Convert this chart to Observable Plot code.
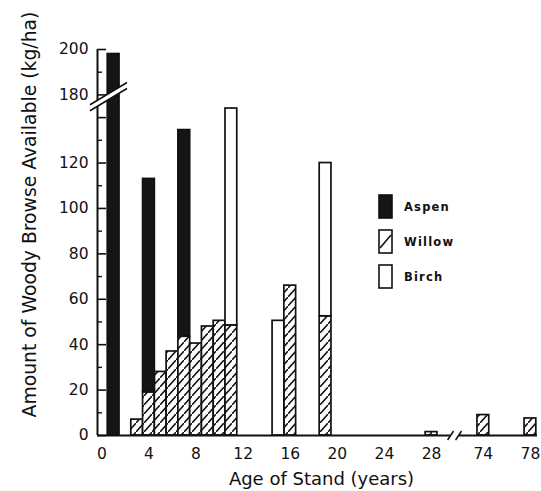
<!DOCTYPE html>
<html>
<head>
<meta charset="utf-8">
<script src="https://cdn.jsdelivr.net/npm/d3@7"></script>
<script src="https://cdn.jsdelivr.net/npm/@observablehq/plot@0.6"></script>
<style>
html, body { margin: 0; padding: 0; background: #fff; }
#chart { width: 541px; height: 491px; }
svg { display: block; }
</style>
</head>
<body>
<div id="chart"></div>
<script>
// ---- data ----
const ages   = [1, 3, 4, 5, 6, 7, 8, 9, 10, 11, 15, 16, 19, 28, 74, 78];
const willow = [0, 7, 19, 28, 37, 43.5, 40.5, 48, 50.5, 48.5, 0, 66, 52.5, 1.5, 9, 7.5];
const aspen  = [198, 0, 94, 0, 0, 91, 0, 0, 0, 0, 0, 0, 0, 0, 0, 0];
const birch  = [0, 0, 0, 0, 0, 0, 0, 0, 0, 95.5, 50.5, 0, 67.5, 0, 0, 0];
const species = ["Aspen", "Willow", "Birch"];
const xTickLabels = [0, 4, 8, 12, 16, 20, 24, 28, 74, 78];
const yTickLabels = [0, 20, 40, 60, 80, 100, 120, 180, 200];
const yMajorTicks = [0, 20, 40, 60, 80, 100, 120, 140, 180, 200];
const yMinorTicks = [10, 30, 50, 70, 90, 110, 130, 190];
const xTitle = "Age of Stand (years)";
const yTitle = "Amount of Woody Browse Available (kg/ha)";

// ---- broken axes ----
const X_GAP = 41.6;   // years cut out between 28 and 74
const Y_GAP = 30;     // kg/ha cut out between 140 and 180
const X_BREAK = 30;   // position of the x-axis break (display units)
const Y_BREAK = 146;  // position of the y-axis break (display units)
const tx = a => a > 50 ? a - X_GAP : a;
const ty = v => v > 160 ? v - Y_GAP : v;
const xDomain = [-0.37, 37];
const yDomain = [0, 170];

// stacked rows: willow at bottom, aspen / birch on top
const rows = [];
ages.forEach((a, i) => {
  const w = willow[i];
  if (w > 0) rows.push({age: a, species: "Willow", y1: 0, y2: w});
  if (aspen[i] > 0) rows.push({age: a, species: "Aspen", y1: w, y2: w + aspen[i]});
  if (birch[i] > 0) rows.push({age: a, species: "Birch", y1: w, y2: w + birch[i]});
});
const bars = sp => rows.filter(d => d.species === sp);
const barOpts = {
  x1: d => tx(d.age) - 0.5,
  x2: d => tx(d.age) + 0.5,
  y1: d => ty(d.y1),
  y2: d => ty(d.y2),
  stroke: "#111",
  strokeWidth: 1.7
};
const yLabelMap = new Map(yTickLabels.map(v => [ty(v), v]));
const xLabelMap = new Map(xTickLabels.map(v => [tx(v), v]));
const FONT = "DejaVu Sans, sans-serif";

const chart = Plot.plot({
  width: 541,
  height: 491,
  marginLeft: 97,
  marginRight: 4,
  marginTop: 49,
  marginBottom: 56,
  style: {fontFamily: FONT, color: "#111", background: "#fff"},
  x: {domain: xDomain, axis: null},
  y: {domain: yDomain, axis: null},
  marks: [
    Plot.rect(bars("Willow"), {...barOpts, fill: "url(#willowHatch)"}),
    Plot.rect(bars("Aspen"), {...barOpts, fill: "#151515"}),
    Plot.rect(bars("Birch"), {...barOpts, fill: "#fff"}),
    Plot.ruleY([0], {x1: xDomain[0], x2: xDomain[1], stroke: "#111", strokeWidth: 2}),
    Plot.ruleX([xDomain[0]], {y1: 0, y2: yDomain[1], stroke: "#111", strokeWidth: 2}),
    Plot.tickY(yMajorTicks.map(ty), {y: d => d, insetRight: 440 - 9, stroke: "#111", strokeWidth: 1.6}),
    Plot.tickY(yMinorTicks.map(ty), {y: d => d, insetRight: 440 - 5, stroke: "#111", strokeWidth: 1.4}),
    Plot.axisY(yTickLabels.map(ty), {
      tickSize: 0, tickPadding: 9, label: null, fontSize: 15.5,
      tickFormat: d => yLabelMap.get(d)
    }),
    Plot.axisX(xTickLabels.map(tx), {
      tickSize: 0, tickPadding: 12, label: null, fontSize: 15.5,
      tickFormat: d => xLabelMap.get(d)
    }),
    Plot.text([xTitle], {
      frameAnchor: "bottom", dy: 49, dx: 4, fontSize: 18, text: d => d,
      lineAnchor: "bottom", textAnchor: "middle", fill: "#111"
    }),
    Plot.text([yTitle], {
      frameAnchor: "left", rotate: -90, dx: -68, dy: -28, fontSize: 18.8, text: d => d,
      textAnchor: "middle", lineAnchor: "middle", fill: "#111"
    })
  ]
});

document.getElementById("chart").appendChild(chart);

// ---- hatch pattern for willow (steep "/" lines) ----
const svg = d3.select(chart);
const defs = svg.insert("defs", ":first-child");
const pat = defs.append("pattern")
  .attr("id", "willowHatch")
  .attr("patternUnits", "userSpaceOnUse")
  .attr("width", 8).attr("height", 9);
pat.append("rect").attr("width", 8).attr("height", 9).attr("fill", "#fff");
pat.append("path")
  .attr("d", "M-1,10.125 L9,-1.125 M-3,2.25 L1,-2.25 M7,11.25 L11,6.75")
  .attr("stroke", "#111").attr("stroke-width", 1.5);

// ---- axis break marks ----
const xs = chart.scale("x"), ys = chart.scale("y");
const ax = xs.apply(xDomain[0]);
const yc = ys.apply(Y_BREAK);
const deco = svg.append("g");
deco.append("polygon")
  .attr("points", [[ax - 7, yc + 1.2], [ax + 30, yc - 21], [ax + 30, yc - 15], [ax - 7, yc + 7.2]].join(" "))
  .attr("fill", "#fff");
deco.append("line").attr("x1", ax - 7).attr("y1", yc + 1.2).attr("x2", ax + 30).attr("y2", yc - 21)
  .attr("stroke", "#111").attr("stroke-width", 1.6);
deco.append("line").attr("x1", ax - 7).attr("y1", yc + 7.2).attr("x2", ax + 30).attr("y2", yc - 15)
  .attr("stroke", "#111").attr("stroke-width", 1.6);

const bx = xs.apply(X_BREAK), by = ys.apply(0);
deco.append("rect").attr("x", bx - 4.5).attr("y", by - 2).attr("width", 9).attr("height", 4).attr("fill", "#fff");
[-4, 4].forEach(o => {
  deco.append("line")
    .attr("x1", bx + o - 3).attr("y1", by + 5).attr("x2", bx + o + 3).attr("y2", by - 4)
    .attr("stroke", "#111").attr("stroke-width", 1.5);
});

// ---- legend ----
const leg = svg.append("g").attr("font-family", FONT).attr("font-size", 11.5)
  .attr("font-weight", "bold").attr("fill", "#111").attr("text-anchor", "start");
species.forEach((sp, i) => {
  const y0 = 195 + i * 35;
  leg.append("rect").attr("x", 379).attr("y", y0).attr("width", 13).attr("height", 23)
    .attr("stroke", "#111").attr("stroke-width", 1.6)
    .attr("fill", sp === "Aspen" ? "#151515" : "#fff");
  if (sp === "Willow") {
    leg.append("line").attr("x1", 380).attr("y1", y0 + 18).attr("x2", 391).attr("y2", y0 + 5)
      .attr("stroke", "#111").attr("stroke-width", 1.6);
  }
  leg.append("text").attr("x", 404).attr("y", y0 + 16).attr("letter-spacing", 1.2)
    .attr("text-anchor", "start").text(sp);
});
</script>
</body>
</html>
